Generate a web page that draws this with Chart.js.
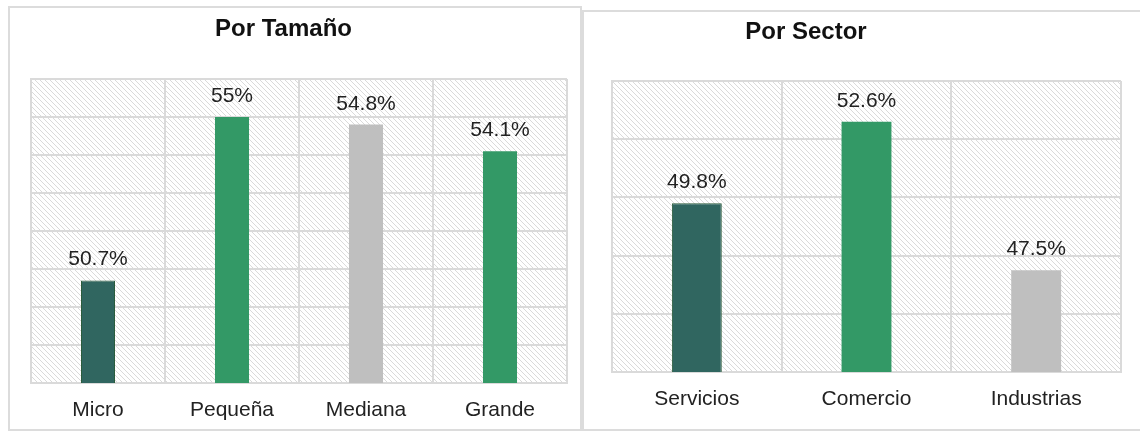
<!DOCTYPE html>
<html>
<head>
<meta charset="utf-8">
<script src="https://cdn.jsdelivr.net/npm/chart.js@4"></script>
<style>
  html, body { margin: 0; padding: 0; background: #fff; overflow: hidden; }
  body { width: 1140px; height: 433px; position: relative; font-family: "Liberation Sans", Arial, sans-serif; }
  .panel { position: absolute; border: 2px solid #dcdcdc; box-sizing: border-box; }
  #panelSize { left: 8px; top: 6px; width: 574px; height: 425px; }
  #panelSector { left: 582px; top: 10px; width: 570px; height: 421px; }
  canvas { position: absolute; top: 0; }
  #chartSize { left: 0; }
  #chartSector { left: 491px; }
</style>
</head>
<body>
<div class="panel" id="panelSize"></div>
<div class="panel" id="panelSector"></div>
<canvas id="chartSize" width="574" height="433"></canvas>
<canvas id="chartSector" width="649" height="433"></canvas>
<script>
// datos
const sizeLabels = ['Micro', 'Pequeña', 'Mediana', 'Grande'];
const sizeValues = [50.7, 55, 54.8, 54.1];
const sizeAxis = { min: 48, max: 56, step: 1 };

const sectorLabels = ['Servicios', 'Comercio', 'Industrias'];
const sectorValues = [49.8, 52.6, 47.5];
const sectorAxis = { min: 44, max: 54, step: 2 };

const DARK = '#306660';
const GREEN = '#339966';
const GREY = '#bfbfbf';
const GRID = '#dadada';
const FONT = '"Liberation Sans", Arial, sans-serif';

function makeHatch() {
  const c = document.createElement('canvas');
  c.width = 5; c.height = 5;
  const g = c.getContext('2d');
  g.fillStyle = '#fff';
  g.fillRect(0, 0, 5, 5);
  g.strokeStyle = '#dadada';
  g.lineWidth = 1;
  g.beginPath();
  g.moveTo(-1, -1); g.lineTo(6, 6);
  g.moveTo(-1, 4); g.lineTo(1, 6);
  g.moveTo(4, -1); g.lineTo(6, 1);
  g.stroke();
  return g.createPattern(c, 'repeat');
}

const hatchPlugin = {
  id: 'hatch',
  beforeDraw(chart) {
    const { ctx, chartArea: a } = chart;
    ctx.save();
    ctx.fillStyle = makeHatch();
    ctx.fillRect(a.left, a.top, a.right - a.left, a.bottom - a.top);
    ctx.restore();
  }
};

const valueLabels = {
  id: 'valueLabels',
  afterDatasetsDraw(chart) {
    const ctx = chart.ctx;
    const meta = chart.getDatasetMeta(0);
    const data = chart.data.datasets[0].data;
    ctx.save();
    ctx.font = '21px ' + FONT;
    ctx.fillStyle = '#222';
    ctx.textAlign = 'center';
    ctx.textBaseline = 'alphabetic';
    meta.data.forEach((bar, i) => {
      ctx.fillText(data[i] + '%', bar.x, bar.y - 15);
    });
    ctx.restore();
  }
};

function renderBars(id, title, labels, values, colors, axis, opts) {
  new Chart(document.getElementById(id), {
    type: 'bar',
    data: {
      labels: labels,
      datasets: [{
        data: values,
        backgroundColor: colors,
        borderColor: colors.map(c => c === DARK ? '#2b5c3c' : c),
        borderWidth: colors.map(c => c === DARK ? 1 : 0),
        barPercentage: opts.barPct,
        categoryPercentage: 1
      }]
    },
    options: {
      responsive: false,
      animation: false,
      layout: { padding: { left: 0, right: opts.padRight, top: 0, bottom: 0 } },
      plugins: {
        legend: { display: false },
        tooltip: { enabled: false },
        title: {
          display: true,
          text: title,
          color: '#111',
          font: { family: FONT, size: 24, weight: 'bold' },
          padding: { top: opts.titleTop, bottom: opts.titleBottom }
        }
      },
      scales: {
        x: {
          grid: { color: GRID, lineWidth: 2, drawTicks: false },
          border: { color: GRID, width: 2 },
          ticks: { color: '#222', font: { family: FONT, size: 21 }, padding: 15, maxRotation: 0 },
          afterFit: s => { s.height = opts.xHeight; }
        },
        y: {
          min: axis.min,
          max: axis.max,
          ticks: { stepSize: axis.step, display: false },
          grid: { color: GRID, lineWidth: 2, drawTicks: false },
          border: { color: GRID, width: 2 },
          afterFit: s => { s.width = opts.yWidth; }
        }
      }
    },
    plugins: [hatchPlugin, valueLabels]
  });
}

renderBars('chartSize', 'Por Tamaño', sizeLabels, sizeValues,
  [DARK, GREEN, GREY, GREEN], sizeAxis,
  { barPct: 0.254, padRight: 7, yWidth: 31, xHeight: 50, titleTop: 14.6, titleBottom: 35.6 });

renderBars('chartSector', 'Por Sector', sectorLabels, sectorValues,
  [DARK, GREEN, GREY], sectorAxis,
  { barPct: 0.294, padRight: 19, yWidth: 121, xHeight: 61, titleTop: 17.6, titleBottom: 34.6 });
</script>
</body>
</html>
